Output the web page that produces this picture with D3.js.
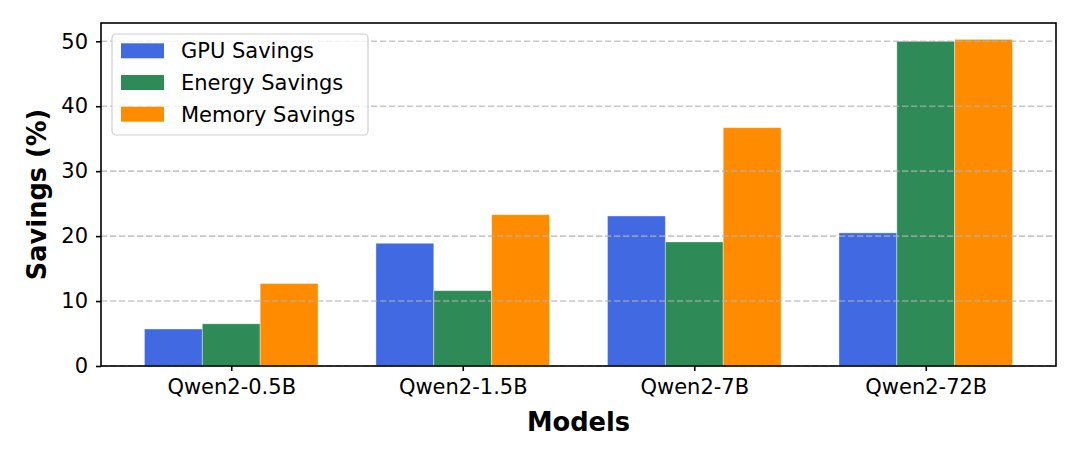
<!DOCTYPE html>
<html>
<head>
<meta charset="utf-8">
<script src="https://cdn.jsdelivr.net/npm/d3@7"></script>
<style>
  body { margin: 0; background: #fff; }
  svg { display: block; font-family: "DejaVu Sans", sans-serif; }
</style>
</head>
<body>
<svg id="chart" width="1080" height="463"></svg>
<script>
const models = ['Qwen2-0.5B', 'Qwen2-1.5B', 'Qwen2-7B', 'Qwen2-72B'];
const seriesNames = ['GPU Savings', 'Energy Savings', 'Memory Savings'];
const gpuSavings = [5.7, 18.9, 23.1, 20.5];
const energySavings = [6.5, 11.6, 19.1, 50.0];
const memorySavings = [12.7, 23.3, 36.7, 50.3];
const yTicks = [0, 10, 20, 30, 40, 50];
const colors = ['#4169E1', '#2E8B57', '#FF8C00'];

const allSeries = [gpuSavings, energySavings, memorySavings];

const svg = d3.select('#chart');
const margin = {left: 101, right: 1080 - 1056, top: 23, bottom: 463 - 366};
const W = 1080 - margin.left - margin.right;
const H = 463 - margin.top - margin.bottom;
const g = svg.append('g').attr('transform', `translate(${margin.left},${margin.top})`);

// matplotlib-ish: categories at 0..n-1, bar width 0.25, 5% margins
const barW = 0.25;
const lo = -1.5 * barW, hi = models.length - 1 + 1.5 * barW;
const pad = (hi - lo) * 0.05;
const x = d3.scaleLinear().domain([lo - pad, hi + pad]).range([0, W]);
const maxV = d3.max(allSeries.flat());
const y = d3.scaleLinear().domain([0, maxV * 1.05]).range([H, 0]);

// bars
allSeries.forEach((vals, si) => {
  g.append('g').selectAll('rect')
    .data(vals)
    .join('rect')
    .attr('x', (d, i) => x(i + (si - 1) * barW - barW / 2))
    .attr('width', x(barW) - x(0))
    .attr('y', d => y(d))
    .attr('height', d => y(0) - y(d))
    .attr('fill', colors[si])
    .attr('stroke', '#fff')
    .attr('stroke-opacity', 0.5)
    .attr('stroke-width', 0.8);
});

// grid on top of bars
g.append('g').selectAll('line')
  .data(yTicks)
  .join('line')
  .attr('x1', 0).attr('x2', W)
  .attr('y1', d => y(d)).attr('y2', d => y(d))
  .attr('stroke', '#b0b0b0')
  .attr('stroke-opacity', 0.7)
  .attr('stroke-width', 1.6)
  .attr('stroke-dasharray', '6.3,2.7');

// axes
const xAxis = d3.axisBottom(x).tickValues(d3.range(models.length))
  .tickFormat(i => models[i]).tickSize(5).tickPadding(8);
const yAxis = d3.axisLeft(y).tickValues(yTicks).tickSize(5).tickPadding(8);

const gx = g.append('g').attr('transform', `translate(0,${H})`).call(xAxis);
const gy = g.append('g').call(yAxis);
[gx, gy].forEach(a => {
  a.select('.domain').remove();
  a.selectAll('.tick line').attr('stroke', '#000').attr('stroke-width', 1.6);
  a.selectAll('.tick text').attr('fill', '#000').style('font-size', '21px')
    .style('font-family', '"DejaVu Sans", sans-serif');
});

// frame
g.append('rect').attr('width', W).attr('height', H)
  .attr('fill', 'none').attr('stroke', '#000').attr('stroke-width', 1.6);

// axis labels
svg.append('text')
  .attr('x', margin.left + W / 2).attr('y', 431)
  .attr('text-anchor', 'middle')
  .style('font-size', '25.7px').style('font-weight', 'bold')
  .text('Models');
svg.append('text')
  .attr('transform', `translate(46,${margin.top + H / 2}) rotate(-90)`)
  .attr('text-anchor', 'middle')
  .style('font-size', '25.7px').style('font-weight', 'bold')
  .text('Savings (%)');

// legend
const leg = svg.append('g').attr('transform', 'translate(112,34)');
leg.append('rect').attr('width', 256).attr('height', 101).attr('rx', 4)
  .attr('fill', '#fff').attr('fill-opacity', 0.8)
  .attr('stroke', '#d0d0d0').attr('stroke-width', 1.2);
seriesNames.forEach((name, i) => {
  const row = leg.append('g').attr('transform', `translate(0,${16.8 + i * 31.7})`);
  row.append('rect').attr('x', 9).attr('y', -7.5).attr('width', 43).attr('height', 15)
    .attr('fill', colors[i]);
  row.append('text').attr('x', 69).attr('y', 0).attr('dy', '0.36em')
    .style('font-size', '21px').text(name);
});
</script>
</body>
</html>
